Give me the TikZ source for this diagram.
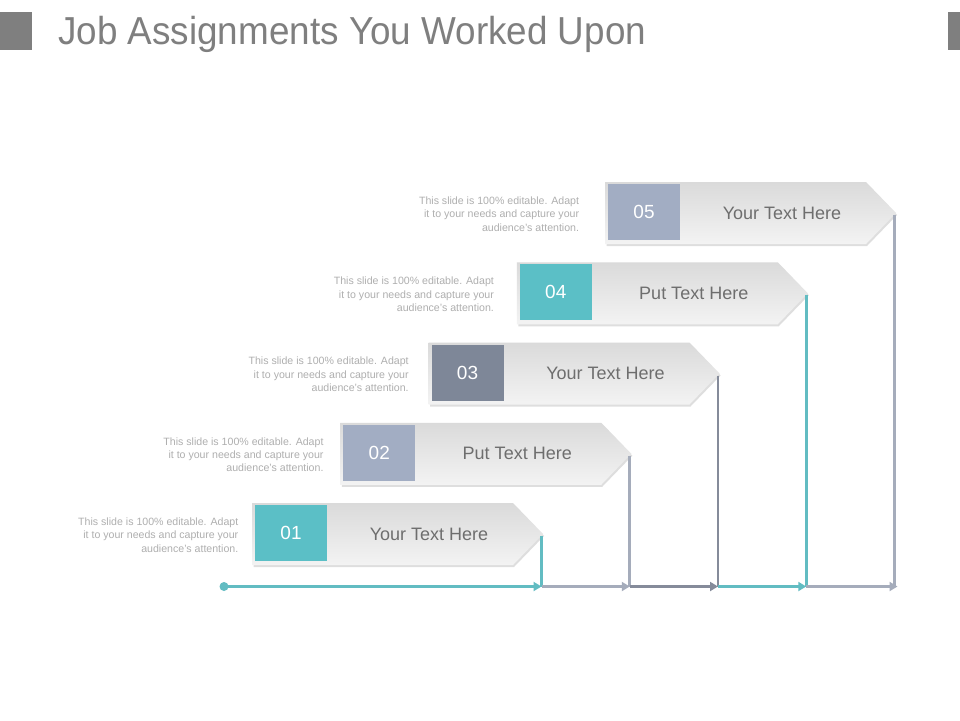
\documentclass[tikz,border=0pt]{standalone}
\usepackage{fontspec}
\setmainfont{Liberation Sans}
\usetikzlibrary{arrows.meta}
\definecolor{tealsq}{HTML}{5BBFC6}
\definecolor{graysq}{HTML}{A2ADC3}
\definecolor{darksq}{HTML}{7E8798}
\definecolor{tealln}{HTML}{62BCC2}
\definecolor{grayln}{HTML}{A5ACBB}
\definecolor{darkln}{HTML}{858B9A}
\definecolor{bantxt}{HTML}{6E6E6E}
\definecolor{desctxt}{HTML}{AFAFAF}
\definecolor{ttlgray}{HTML}{7F7F7F}
\definecolor{bantop}{HTML}{DADADA}
\definecolor{banbot}{HTML}{F3F3F3}
\tikzset{
  banshade/.style={top color=bantop, bottom color=banbot, draw=none},
  banshadow/.style={fill=black, opacity=0.13},
  numbox/.style={minimum width=72pt, minimum height=56pt, inner sep=0pt,
    text=white, font=\fontsize{19}{19}\selectfont},
  bantext/.style={text=bantxt, font=\fontsize{18}{18}\selectfont, inner sep=0pt},
  desc/.style={text=desctxt, font=\fontsize{10.6}{13.4}\selectfont, align=right,
    anchor=east, inner sep=0pt},
  conn/.style={line width=2.8pt},
  segarrow/.style={line width=2.8pt, -{Triangle[length=8pt,width=9pt]}}
}
\begin{document}
\begin{tikzpicture}[x=1pt,y=-1pt]
\fill[white] (0,0) rectangle (960,720);
\useasboundingbox (0,0) rectangle (960,720);
% title
\fill[ttlgray] (0,12) rectangle (32,50);
\fill[ttlgray] (948,12) rectangle (960,50);
\node[anchor=base west, inner sep=0pt, text=ttlgray, xscale=0.945,
  font=\fontsize{39}{39}\selectfont] (title) at (58,44) {Job Assignments You Worked Upon};
% baseline start
\node[circle, fill=tealln, minimum size=9pt, inner sep=0pt] (dot) at (224,586.5) {};
\coordinate (c0) at (224,586.5);
\foreach \k/\num/\lab/\sq/\ln [count=\i] in {0/01/Your Text Here/tealsq/tealln,
  1/02/Put Text Here/graysq/grayln,
  2/03/Your Text Here/darksq/darkln,
  3/04/Put Text Here/tealsq/tealln,
  4/05/Your Text Here/graysq/grayln}{
  \pgfmathsetmacro{\L}{252+88.25*\k}
  \pgfmathsetmacro{\T}{503-80.25*\k}
  \pgfmathsetmacro{\R}{238.5+85.2*\k}
  \fill[banshadow] (\L+1.5,\T+2) -- (\L+262,\T+2) -- (\L+292,\T+33) -- (\L+262,\T+64) -- (\L+1.5,\T+64) -- cycle;
  \shade[banshade] (\L,\T) -- (\L+261,\T) -- (\L+291,\T+31) -- (\L+261,\T+62) -- (\L,\T+62) -- cycle;
  \coordinate (tip\i) at (\L+289.5,\T+33);
  \node[numbox, fill=\sq] (n\i) at (\L+39,\T+30) {\num};
  \node[bantext] (t\i) at (\L+177,\T+31) {\lab};
  \node[desc] (d\i) at (\R,\T+32) {This slide is 100\% editable. Adapt\\it to your needs and capture your\\audience's attention.};
  \coordinate (c\i) at (tip\i |- c0);
  \draw[conn, \ln] (tip\i) -- (c\i);
}
\draw[segarrow, tealln] (dot.center) -- (c1);
\draw[segarrow, grayln] (c1) -- (c2);
\draw[segarrow, darkln] (c2) -- (c3);
\draw[segarrow, tealln] (c3) -- (c4);
\draw[segarrow, grayln] (c4) -- ([xshift=3pt]c5);
\end{tikzpicture}
\end{document}
